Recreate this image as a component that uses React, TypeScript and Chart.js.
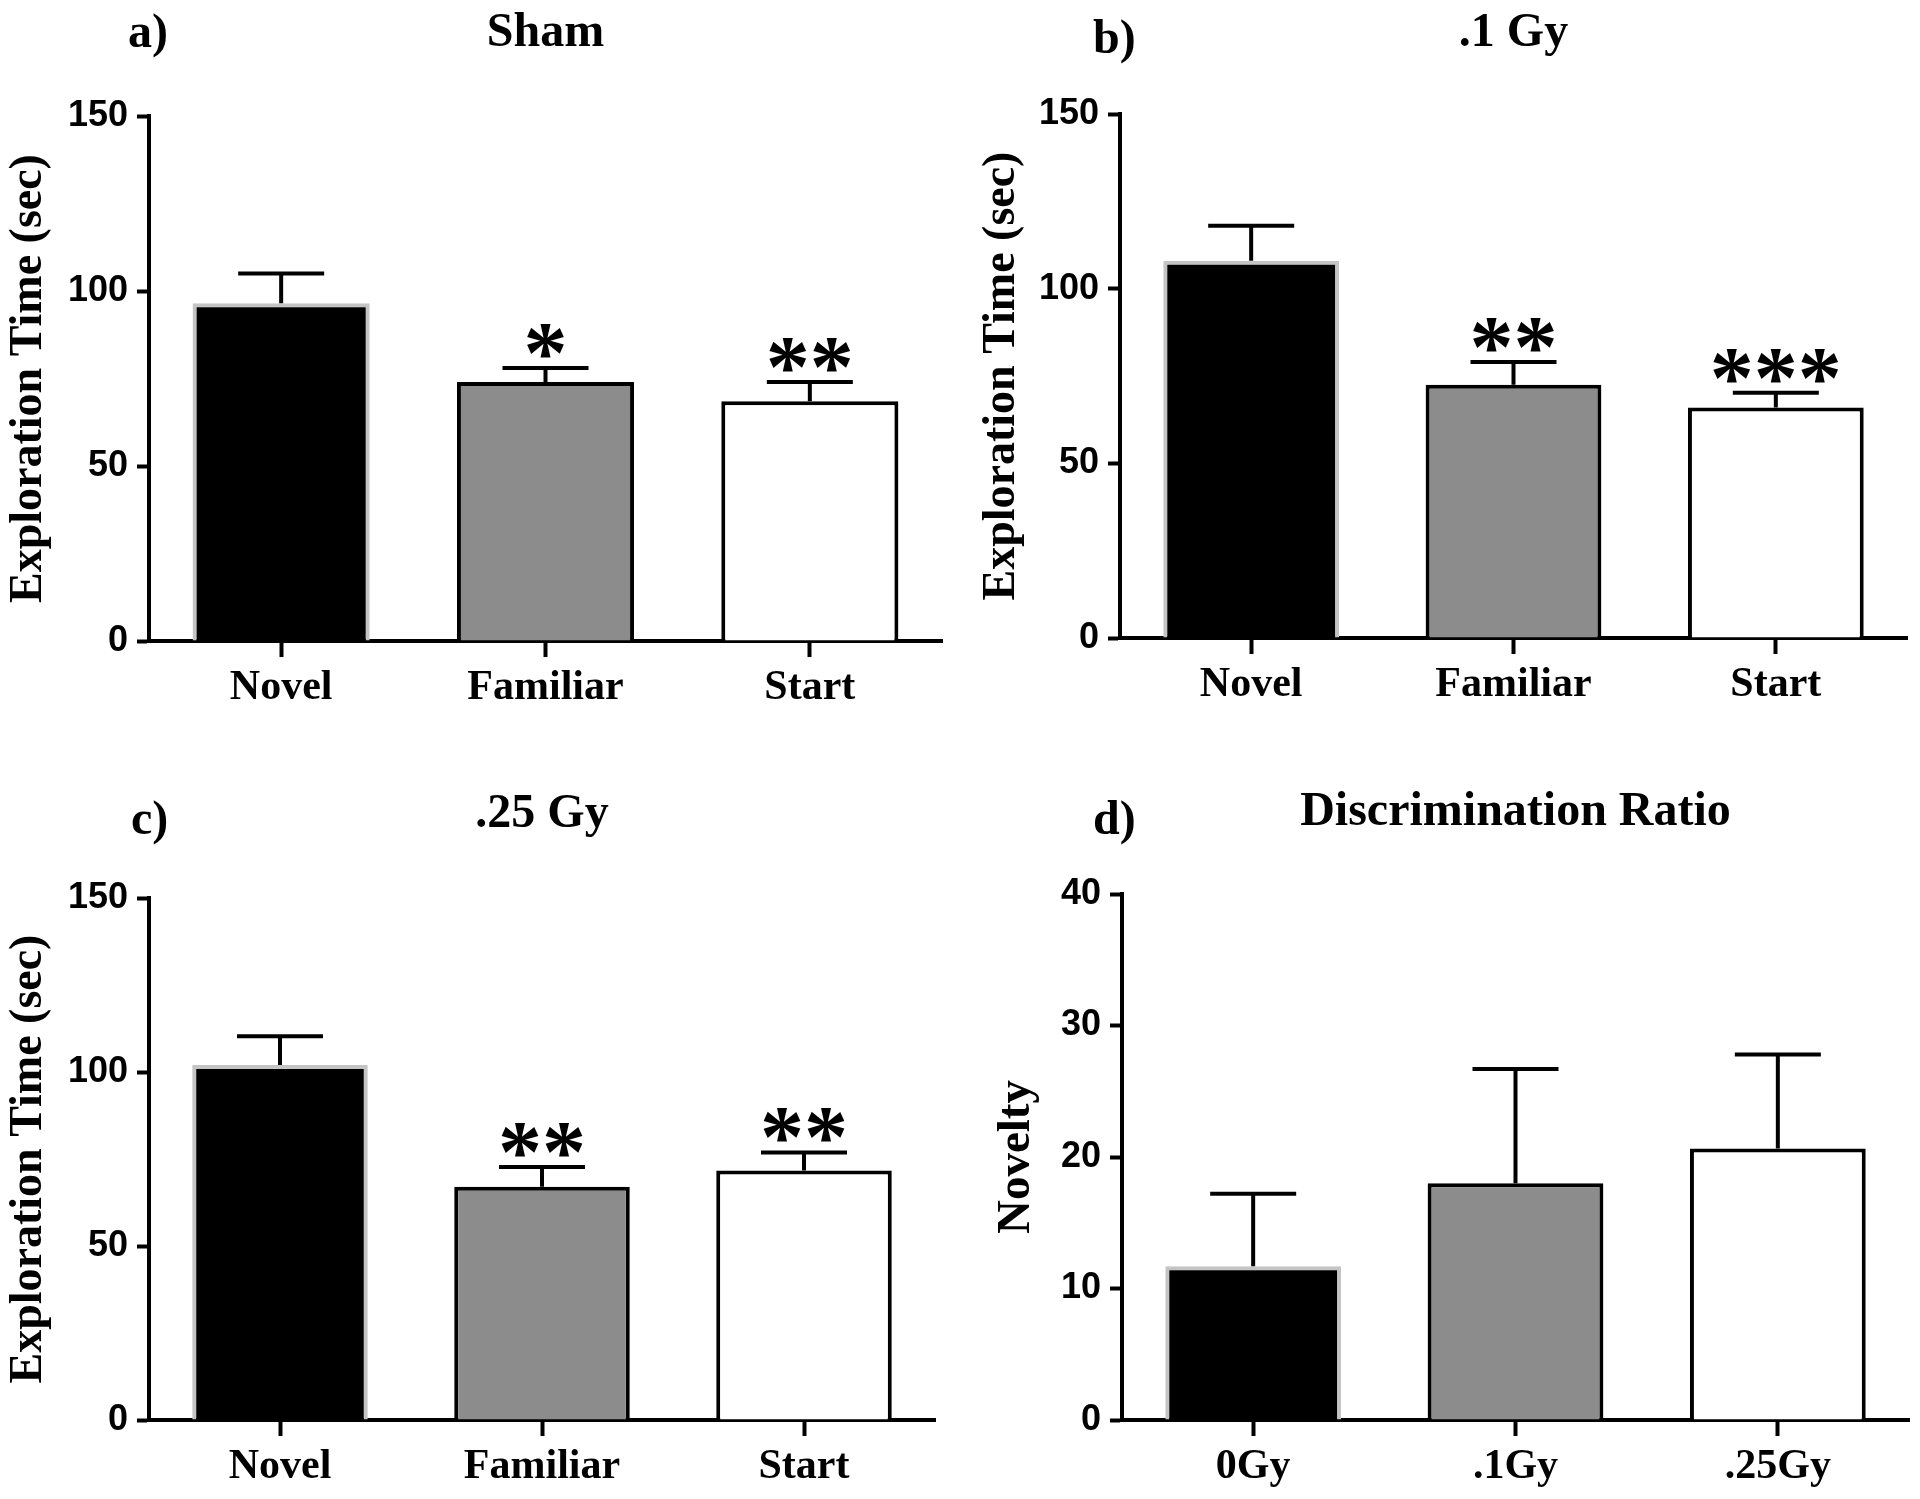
import React, { useEffect, useRef } from 'react';
import { Chart, registerables } from 'chart.js';

Chart.register(...registerables);

// ---------- data ----------
const expCategories = ['Novel', 'Familiar', 'Start'];
const doseCategories = ['0Gy', '.1Gy', '.25Gy'];

const shamMeans = [96.5, 74, 68.5];
const shamErrors = [8.5, 4, 5.5];
const shamStars = ['', '*', '**'];

const lowDoseMeans = [108, 72.5, 66];
const lowDoseErrors = [10, 6.5, 4.2];
const lowDoseStars = ['', '**', '***'];

const highDoseMeans = [102, 67, 71.7];
const highDoseErrors = [8.3, 5.7, 5.2];
const highDoseStars = ['', '**', '**'];

const ratioMeans = [11.7, 18, 20.65];
const ratioErrors = [5.5, 8.7, 7.15];
const ratioStars = ['', '', ''];

const expTickStep = 50;
const expTickMax = 150;
const ratioTickStep = 10;
const ratioTickMax = 40;

const barFills = ['#000000', '#8c8c8c', '#ffffff'];
const barBorders = ['#c4c4c4', '#000000', '#000000'];

// ---------- layout of panels ----------
type PanelCfg = {
  letter: string;
  letterLeft: number;
  letterTop: number;
  left: number;
  top: number;
  width: number;
  height: number;
  title: string;
  titlePadTop: number;
  plotTop: number;
  plotBottom: number;
  plotLeft: number;
  plotRight: number;
  categories: string[];
  means: number[];
  errors: number[];
  stars: string[];
  yMax: number;
  yStep: number;
  yTitle: string;
  yTitleSize: number;
  yTitlePad: number;
};

const TITLE_SIZE = 48;
const TITLE_LH = 1.2;

const panels: PanelCfg[] = [
  {
    letter: 'a)', letterLeft: 128, letterTop: 7,
    left: 0, top: 0, width: 960, height: 740,
    title: 'Sham', titlePadTop: 5,
    plotTop: 116, plotBottom: 641, plotLeft: 149, plotRight: 942,
    categories: expCategories, means: shamMeans, errors: shamErrors, stars: shamStars,
    yMax: expTickMax, yStep: expTickStep, yTitle: 'Exploration Time (sec)', yTitleSize: 46, yTitlePad: 2,
  },
  {
    letter: 'b)', letterLeft: 1093, letterTop: 13,
    left: 960, top: 0, width: 960, height: 740,
    title: '.1 Gy', titlePadTop: 5,
    plotTop: 114, plotBottom: 638, plotLeft: 160, plotRight: 947,
    categories: expCategories, means: lowDoseMeans, errors: lowDoseErrors, stars: lowDoseStars,
    yMax: expTickMax, yStep: expTickStep, yTitle: 'Exploration Time (sec)', yTitleSize: 46, yTitlePad: 15,
  },
  {
    letter: 'c)', letterLeft: 131, letterTop: 794,
    left: 0, top: 760, width: 960, height: 739,
    title: '.25 Gy', titlePadTop: 26,
    plotTop: 138, plotBottom: 660, plotLeft: 149, plotRight: 935,
    categories: expCategories, means: highDoseMeans, errors: highDoseErrors, stars: highDoseStars,
    yMax: expTickMax, yStep: expTickStep, yTitle: 'Exploration Time (sec)', yTitleSize: 46, yTitlePad: 2,
  },
  {
    letter: 'd)', letterLeft: 1093, letterTop: 794,
    left: 960, top: 760, width: 960, height: 739,
    title: 'Discrimination Ratio', titlePadTop: 24,
    plotTop: 134, plotBottom: 660, plotLeft: 162, plotRight: 949,
    categories: doseCategories, means: ratioMeans, errors: ratioErrors, stars: ratioStars,
    yMax: ratioTickMax, yStep: ratioTickStep, yTitle: 'Novelty', yTitleSize: 47, yTitlePad: 29,
  },
];

// ---------- error bar + significance plugin ----------
const errorBarPlugin = {
  id: 'errorBars',
  afterDatasetsDraw(chart: any, _args: any, opts: any) {
    const meta = chart.getDatasetMeta(0);
    const yScale = chart.scales.y;
    const ctx = chart.ctx as CanvasRenderingContext2D;
    const values = chart.data.datasets[0].data as number[];
    ctx.save();
    ctx.strokeStyle = '#000';
    ctx.lineWidth = opts.lineWidth;
    ctx.lineCap = 'butt';
    meta.data.forEach((bar: any, i: number) => {
      const v = values[i];
      const e = opts.errors[i];
      const yTop = yScale.getPixelForValue(v + e);
      const yBase = yScale.getPixelForValue(v);
      ctx.beginPath();
      ctx.moveTo(bar.x, yBase);
      ctx.lineTo(bar.x, yTop);
      ctx.moveTo(bar.x - opts.capHalf, yTop);
      ctx.lineTo(bar.x + opts.capHalf, yTop);
      ctx.stroke();
      const s = opts.stars[i];
      if (s) {
        ctx.font = opts.starFont;
        ctx.fillStyle = '#000';
        ctx.textAlign = 'center';
        ctx.textBaseline = 'alphabetic';
        const m = ctx.measureText(s);
        const baseline = yTop - opts.starGap - m.actualBoundingBoxDescent;
        ctx.fillText(s, bar.x, baseline);
      }
    });
    ctx.restore();
  },
};

const serif = 'Liberation Serif';
const sans = 'Liberation Sans';

function Panel({ cfg }: { cfg: PanelCfg }) {
  const ref = useRef<HTMLCanvasElement | null>(null);
  useEffect(() => {
    if (!ref.current) return;
    const titleBlock = TITLE_SIZE * TITLE_LH;
    const chart = new Chart(ref.current, {
      type: 'bar',
      data: {
        labels: cfg.categories,
        datasets: [
          {
            data: cfg.means,
            backgroundColor: barFills,
            borderColor: barBorders,
            borderWidth: 4,
            categoryPercentage: 1,
            barPercentage: 0.67,
          },
        ],
      },
      options: {
        animation: false,
        responsive: false,
        maintainAspectRatio: false,
        layout: { padding: { left: 0, right: cfg.width - cfg.plotRight, top: 0, bottom: 0 } },
        plugins: {
          legend: { display: false },
          tooltip: { enabled: false },
          title: {
            display: true,
            text: cfg.title,
            fullSize: false,
            color: '#000',
            font: { family: serif, size: TITLE_SIZE, weight: 'bold', lineHeight: TITLE_LH },
            padding: { top: cfg.titlePadTop, bottom: cfg.plotTop - titleBlock - cfg.titlePadTop },
          },
          errorBars: {
            errors: cfg.errors,
            stars: cfg.stars,
            capHalf: 43,
            lineWidth: 4,
            starGap: 10,
            starFont: 'bold 88px "Liberation Serif"',
          },
        } as any,
        scales: {
          x: {
            type: 'category',
            offset: true,
            grid: {
              display: true,
              drawOnChartArea: false,
              drawTicks: true,
              tickLength: 16,
              tickWidth: 4,
              tickColor: '#000',
              offset: false,
            },
            border: { display: true, color: '#000', width: 4 },
            ticks: {
              color: '#000',
              font: { family: serif, size: 42, weight: 'bold' },
              padding: 6,
              maxRotation: 0,
              autoSkip: false,
            },
            afterFit: (s: any) => {
              s.height = cfg.height - cfg.plotBottom;
            },
          },
          y: {
            min: 0,
            max: cfg.yMax,
            ticks: {
              stepSize: cfg.yStep,
              color: '#000',
              font: { family: sans, size: 36, weight: 'bold' },
              padding: 9,
            },
            grid: {
              display: true,
              drawOnChartArea: false,
              drawTicks: true,
              tickLength: 12,
              tickWidth: 4,
              tickColor: '#000',
            },
            border: { display: true, color: '#000', width: 4 },
            title: {
              display: true,
              text: cfg.yTitle,
              color: '#000',
              font: { family: serif, size: cfg.yTitleSize, weight: 'bold', lineHeight: 1.2 },
              padding: { top: cfg.yTitlePad, bottom: 0 },
            },
            afterFit: (s: any) => {
              s.width = cfg.plotLeft;
            },
          },
        },
      } as any,
      plugins: [errorBarPlugin as any],
    });
    return () => chart.destroy();
  }, [cfg]);

  return (
    <>
      <canvas
        ref={ref}
        width={cfg.width}
        height={cfg.height}
        style={{ position: 'absolute', left: cfg.left, top: cfg.top, width: cfg.width, height: cfg.height }}
      />
      <div
        style={{
          position: 'absolute',
          left: cfg.letterLeft,
          top: cfg.letterTop,
          fontFamily: serif,
          fontWeight: 'bold',
          fontSize: 48,
          lineHeight: '48px',
          color: '#000',
          whiteSpace: 'nowrap',
        }}
      >
        {cfg.letter}
      </div>
    </>
  );
}

export default function App() {
  return (
    <div
      style={{
        position: 'absolute',
        left: 0,
        top: 0,
        width: 1920,
        height: 1499,
        overflow: 'hidden',
        background: '#fff',
      }}
    >
      {panels.map((p) => (
        <Panel key={p.letter} cfg={p} />
      ))}
    </div>
  );
}
